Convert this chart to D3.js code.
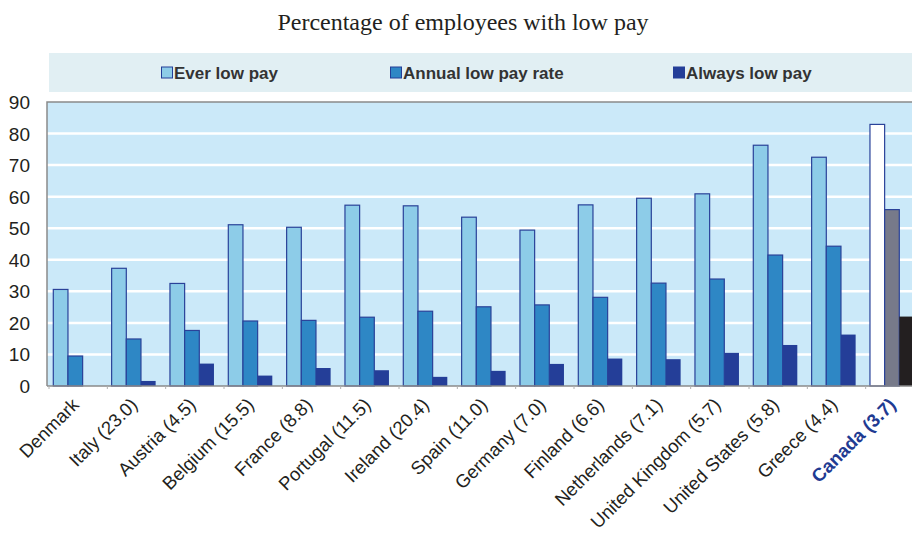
<!DOCTYPE html>
<html>
<head>
<meta charset="utf-8">
<script src="https://cdn.jsdelivr.net/npm/d3@7"></script>
<style>
  body { margin: 0; background: #fff; }
  svg { display: block; }
</style>
</head>
<body>
<div id="chart"></div>
<script>
// Percentage of employees with low pay, by country

var countries = ["Denmark", "Italy (23.0)", "Austria (4.5)", "Belgium (15.5)", "France (8.8)",
  "Portugal (11.5)", "Ireland (20.4)", "Spain (11.0)", "Germany (7.0)", "Finland (6.6)",
  "Netherlands (7.1)", "United Kingdom (5.7)", "United States (5.8)", "Greece (4.4)", "Canada (3.7)"];

var everLow   = [30.6, 37.3, 32.5, 51.1, 50.3, 57.3, 57.1, 53.5, 49.4, 57.4, 59.5, 60.9, 76.3, 72.5, 82.9];
var annualLow = [9.5, 14.9, 17.6, 20.6, 20.8, 21.8, 23.7, 25.1, 25.7, 28.1, 32.6, 33.9, 41.5, 44.3, 55.9];
var alwaysLow = [0, 1.6, 7.1, 3.3, 5.7, 5.0, 2.9, 4.8, 7.0, 8.7, 8.5, 10.5, 13.0, 16.3, 22.0];

var seriesNames = ["Ever low pay", "Annual low pay rate", "Always low pay"];
var yTicks = [0, 10, 20, 30, 40, 50, 60, 70, 80, 90];

var colors = ["#8dcce8", "#2e87c5", "#243e98"];
var canadaColors = ["#ffffff", "#777a8a", "#231f20"];

var width = 912, height = 533;
var plotLeft = 47, plotRight = 922, plotTop = 102, plotBottom = 386;

var svg = d3.select("#chart").append("svg")
    .attr("width", width)
    .attr("height", height);

// title
svg.append("text")
    .attr("x", 463).attr("y", 30)
    .attr("text-anchor", "middle")
    .style("font-family", "'Liberation Serif', 'Times New Roman', serif")
    .style("font-size", "24px")
    .attr("fill", "#231f20")
    .text("Percentage of employees with low pay");

// legend box
svg.append("rect")
    .attr("x", 49).attr("y", 53)
    .attr("width", 870).attr("height", 39)
    .attr("fill", "#e1eff3");

var legendX = [161, 390, 673];
var legend = svg.selectAll("g.legend")
    .data(seriesNames)
    .enter().append("g")
    .attr("class", "legend")
    .attr("transform", function(d, i) { return "translate(" + legendX[i] + ",73)"; });

legend.append("rect")
    .attr("x", 0.5).attr("y", -6)
    .attr("width", 11).attr("height", 11)
    .attr("fill", function(d, i) { return colors[i]; })
    .attr("stroke", "#243e98")
    .attr("stroke-width", 1);

legend.append("text")
    .attr("x", 13).attr("y", 6)
    .style("font-family", "'Liberation Sans', Arial, sans-serif")
    .style("font-size", "17px")
    .style("font-weight", "bold")
    .attr("fill", "#333")
    .text(function(d) { return d; });

// scales
var x = d3.scaleBand().domain(countries).range([plotLeft, plotRight]).paddingInner(0).paddingOuter(0);
var xSub = d3.scaleBand().domain([0, 1, 2]).range([6.3, 6.3 + 44]);
var y = d3.scaleLinear().domain([0, 90]).range([plotBottom, plotTop]);

// plot background
svg.append("rect")
    .attr("x", plotLeft).attr("y", plotTop)
    .attr("width", plotRight - plotLeft).attr("height", plotBottom - plotTop)
    .attr("fill", "#cbe9f9");

// gridlines
svg.append("g")
    .selectAll("line")
    .data(yTicks.slice(1, -1))
    .enter().append("line")
    .attr("x1", plotLeft).attr("x2", plotRight)
    .attr("y1", function(d) { return y(d); })
    .attr("y2", function(d) { return y(d); })
    .attr("stroke", "#ffffff")
    .attr("stroke-width", 2.5);

// frame: left and top edges
svg.append("path")
    .attr("d", "M" + plotLeft + "," + plotBottom + "V" + plotTop + "H" + plotRight)
    .attr("fill", "none")
    .attr("stroke", "#8a8a8a")
    .attr("stroke-width", 1.5);

// bars
var rows = countries.map(function(c, i) {
    return { country: c, idx: i, values: [everLow[i], annualLow[i], alwaysLow[i]] };
});

var groups = svg.selectAll("g.country")
    .data(rows)
    .enter().append("g")
    .attr("class", "country")
    .attr("transform", function(d) { return "translate(" + x(d.country) + ",0)"; });

groups.selectAll("rect")
    .data(function(d) {
        return d.values
            .map(function(v, k) { return { v: v, k: k, canada: d.idx === countries.length - 1 }; })
            .filter(function(e) { return e.v > 0; });
    })
    .enter().append("rect")
    .attr("x", function(d) { return xSub(d.k); })
    .attr("y", function(d) { return y(d.v); })
    .attr("width", xSub.bandwidth())
    .attr("height", function(d) { return y(0) - y(d.v); })
    .attr("fill", function(d) { return d.canada ? canadaColors[d.k] : colors[d.k]; })
    .attr("stroke", function(d) { return d.k === 2 ? "none" : "#2a4299"; })
    .attr("stroke-width", 1.2);

// x axis line and small ticks
svg.append("line")
    .attr("x1", plotLeft).attr("x2", plotRight)
    .attr("y1", plotBottom).attr("y2", plotBottom)
    .attr("stroke", "#8a8a8a")
    .attr("stroke-width", 1.5);

svg.append("g")
    .selectAll("line")
    .data(countries)
    .enter().append("line")
    .attr("x1", function(d) { return x(d) + 2; })
    .attr("x2", function(d) { return x(d) + 2; })
    .attr("y1", plotBottom).attr("y2", plotBottom + 3)
    .attr("stroke", "#b0b0b0");

// y axis labels
svg.append("g")
    .selectAll("text")
    .data(yTicks)
    .enter().append("text")
    .attr("x", 30)
    .attr("y", function(d) { return y(d) + 7; })
    .attr("text-anchor", "end")
    .style("font-family", "'Liberation Sans', Arial, sans-serif")
    .style("font-size", "19px")
    .attr("fill", "#231f20")
    .text(function(d) { return d; });

// x labels, rotated
svg.append("g")
    .selectAll("text")
    .data(countries)
    .enter().append("text")
    .attr("transform", function(d) {
        return "translate(" + (x(d) + x.bandwidth() / 2 + 4) + "," + 406 + ") rotate(-45)";
    })
    .attr("text-anchor", "end")
    .style("font-family", "'Liberation Sans', Arial, sans-serif")
    .style("font-size", "18.5px")
    .style("font-weight", function(d, i) { return i === countries.length - 1 ? "bold" : "normal"; })
    .attr("fill", function(d, i) { return i === countries.length - 1 ? "#1f3b92" : "#231f20"; })
    .text(function(d) { return d; });
</script>
</body>
</html>
